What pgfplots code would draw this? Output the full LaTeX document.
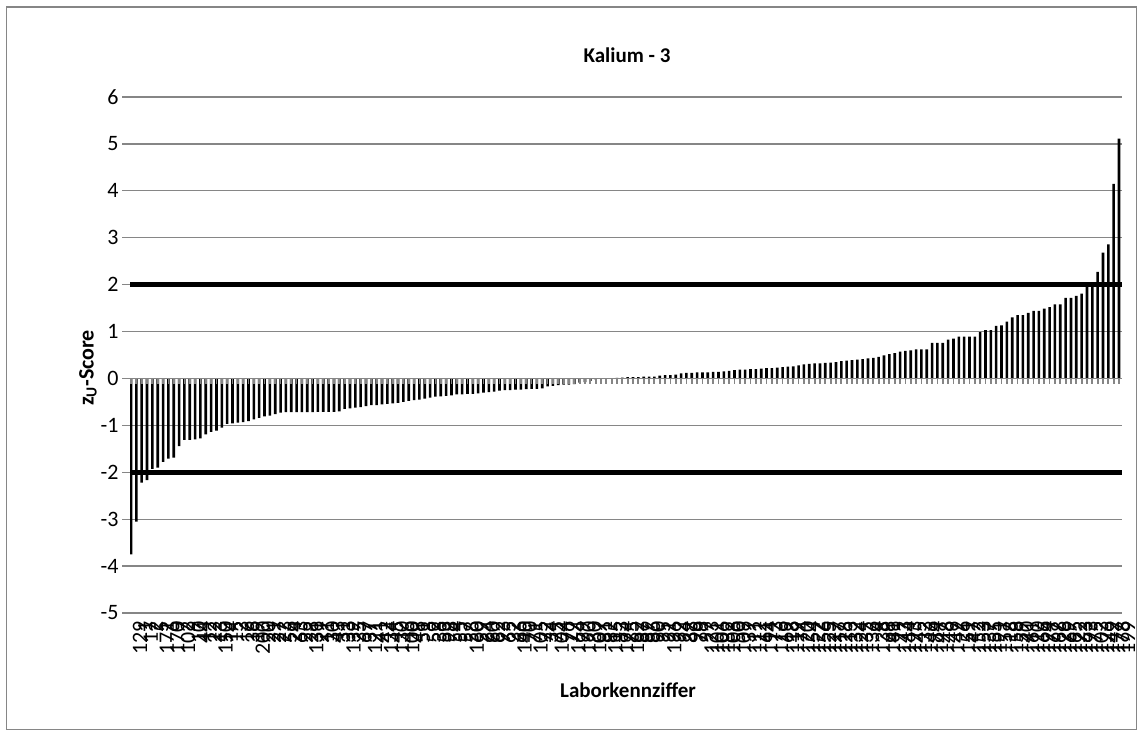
\documentclass[border=0pt]{standalone}
\usepackage{fontspec}
\setmainfont{Carlito}
\usepackage{pgfplots}
\pgfplotsset{compat=1.18}
\usepackage{pgfplotstable}
\definecolor{gridgray}{RGB}{134,134,134}
\pgfplotstableread{
x y
0 -3.75
1 -3.05
2 -2.22
3 -2.17
4 -1.93
5 -1.90
6 -1.78
7 -1.71
8 -1.69
9 -1.44
10 -1.31
11 -1.31
12 -1.30
13 -1.28
14 -1.19
15 -1.14
16 -1.11
17 -1.05
18 -0.97
19 -0.96
20 -0.94
21 -0.93
22 -0.91
23 -0.87
24 -0.84
25 -0.81
26 -0.79
27 -0.76
28 -0.73
29 -0.72
30 -0.72
31 -0.72
32 -0.72
33 -0.72
34 -0.72
35 -0.71
36 -0.71
37 -0.71
38 -0.71
39 -0.70
40 -0.65
41 -0.64
42 -0.62
43 -0.61
44 -0.59
45 -0.57
46 -0.57
47 -0.55
48 -0.54
49 -0.53
50 -0.52
51 -0.50
52 -0.48
53 -0.46
54 -0.45
55 -0.43
56 -0.41
57 -0.39
58 -0.38
59 -0.37
60 -0.36
61 -0.34
62 -0.34
63 -0.33
64 -0.33
65 -0.32
66 -0.30
67 -0.29
68 -0.28
69 -0.26
70 -0.25
71 -0.25
72 -0.24
73 -0.24
74 -0.23
75 -0.22
76 -0.22
77 -0.21
78 -0.17
79 -0.16
80 -0.14
81 -0.13
82 -0.13
83 -0.12
84 -0.09
85 -0.08
86 -0.05
87 -0.02
88 -0.01
89 0.00
90 0.00
91 0.01
92 0.02
93 0.03
94 0.03
95 0.03
96 0.04
97 0.04
98 0.04
99 0.06
100 0.07
101 0.07
102 0.08
103 0.11
104 0.12
105 0.12
106 0.13
107 0.13
108 0.13
109 0.14
110 0.14
111 0.15
112 0.16
113 0.18
114 0.19
115 0.19
116 0.20
117 0.20
118 0.21
119 0.22
120 0.22
121 0.23
122 0.24
123 0.25
124 0.26
125 0.28
126 0.30
127 0.31
128 0.32
129 0.32
130 0.33
131 0.34
132 0.35
133 0.37
134 0.38
135 0.39
136 0.40
137 0.41
138 0.43
139 0.44
140 0.46
141 0.49
142 0.52
143 0.54
144 0.57
145 0.59
146 0.60
147 0.62
148 0.62
149 0.62
150 0.76
151 0.76
152 0.76
153 0.83
154 0.85
155 0.89
156 0.89
157 0.89
158 0.89
159 0.99
160 1.03
161 1.03
162 1.12
163 1.13
164 1.21
165 1.30
166 1.35
167 1.35
168 1.40
169 1.44
170 1.44
171 1.49
172 1.52
173 1.58
174 1.58
175 1.72
176 1.72
177 1.76
178 1.81
179 1.98
180 1.99
181 2.27
182 2.68
183 2.86
184 4.15
185 5.11
}\zscores

\begin{document}
\begin{tikzpicture}[x=1pt,y=1pt]
\useasboundingbox (0,0) rectangle (1143,736);
\draw[gridgray, line width=1.3pt] (6.5,6.5) rectangle (1136.5,729);
\begin{axis}[
  at={(130pt,123pt)}, anchor=south west,
  scale only axis, width=992pt, height=516pt,
  xmin=-0.19, xmax=185.56, ymin=-5, ymax=6,
  ytick={-5,...,6},
  yticklabels={-5,-4,-3,-2,-1,0,1,2,3,4,5,6},
  ymajorgrids, grid style={gridgray, line width=1.3pt},
  axis line style={draw=none},
  tick align=outside, major tick length=8pt,
  ytick pos=left,
  ytick style={gridgray, line width=1.3pt},
  xtick=data, xtick style={draw=none},
  xticklabels={129,1,17,2,5,171,6,170,7,102,9,10,44,12,22,13,150,14,15,3,16,36,19,200,20,21,27,23,56,24,63,25,28,131,29,11,30,43,31,33,139,35,67,37,121,41,42,134,45,130,46,100,48,51,8,52,38,53,98,54,55,57,58,160,59,64,60,62,93,65,32,66,140,70,71,105,72,34,75,104,76,77,164,79,190,80,107,81,82,115,83,174,85,162,87,89,86,90,95,91,196,92,94,88,96,78,97,123,101,106,182,108,50,109,39,111,112,61,114,73,116,69,118,119,74,120,154,122,156,125,127,117,128,113,132,124,135,136,4,138,68,141,99,143,144,193,145,133,146,84,147,148,49,149,26,151,47,152,153,137,155,191,157,18,158,159,40,161,110,166,194,167,168,126,169,165,172,163,173,175,103,176,142,177,178,199},
  xticklabel style={rotate=90, anchor=east, inner sep=0pt, yshift=-9pt, font=\fontsize{22}{22}\selectfont},
  yticklabel style={font=\fontsize{22}{22}\selectfont},
]
\addplot[ybar, bar width=2.6pt, fill=black, draw=none] table[x=x, y=y] {\zscores};
\draw[gridgray, line width=1.5pt] (axis cs:-0.19,0) -- (axis cs:185.56,0);
\pgfplotsinvokeforeach{0,...,185}{\draw[gridgray, line width=1.8pt] (axis cs:#1,0) -- ([yshift=-6pt]axis cs:#1,0);}
\addplot[black, line width=4.5pt, forget plot] coordinates {(-0.19,2) (185.56,2)};
\addplot[black, line width=4.5pt, forget plot] coordinates {(-0.19,-2) (185.56,-2)};
\end{axis}
\node[font=\bfseries\fontsize{21}{21}\selectfont] at (627,681) {Kalium - 3};
\node[font=\bfseries\fontsize{21}{21}\selectfont] at (628,46) {Laborkennziffer};
\node[font=\bfseries\fontsize{22}{22}\selectfont, rotate=90] at (88,368) {z\textsubscript{U}-Score};
\end{tikzpicture}
\end{document}
